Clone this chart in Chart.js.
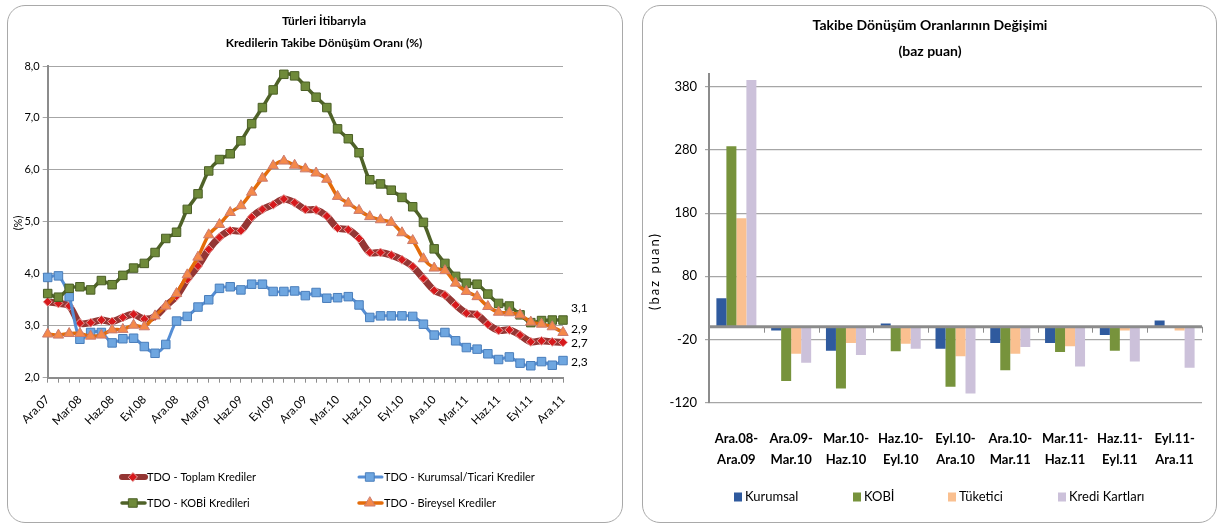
<!DOCTYPE html>
<html>
<head>
<meta charset="utf-8">
<script src="https://cdn.jsdelivr.net/npm/chart.js@4.4.1/dist/chart.umd.min.js"></script>
<style>
  html, body { margin: 0; padding: 0; background: #fff; }
  body { width: 1220px; height: 526px; position: relative; overflow: hidden; }
  canvas { position: absolute; }
  #c1 { left: 7px; top: 5px; }
  #c2 { left: 642px; top: 5px; }
  .frame { position: absolute; top: 5px; height: 518px; border: 1.5px solid #a9a9a9;
           border-radius: 18px; box-sizing: border-box; pointer-events: none; }
  #f1 { left: 7px; width: 616px; }
  #f2 { left: 642px; width: 575px; }
</style>
</head>
<body>
<canvas id="c1" width="616" height="517"></canvas>
<canvas id="c2" width="574" height="517"></canvas>
<div class="frame" id="f1"></div>
<div class="frame" id="f2"></div>
<script>
// ---------- Left chart: NPL conversion ratio by loan type (%) ----------
const months = [
  'Ara.07','Oca.08','Şub.08','Mar.08','Nis.08','May.08','Haz.08','Tem.08','Ağu.08','Eyl.08','Eki.08','Kas.08',
  'Ara.08','Oca.09','Şub.09','Mar.09','Nis.09','May.09','Haz.09','Tem.09','Ağu.09','Eyl.09','Eki.09','Kas.09',
  'Ara.09','Oca.10','Şub.10','Mar.10','Nis.10','May.10','Haz.10','Tem.10','Ağu.10','Eyl.10','Eki.10','Kas.10',
  'Ara.10','Oca.11','Şub.11','Mar.11','Nis.11','May.11','Haz.11','Tem.11','Ağu.11','Eyl.11','Eki.11','Kas.11',
  'Ara.11'
];
const shownMonths = ['Ara.07','Mar.08','Haz.08','Eyl.08','Ara.08','Mar.09','Haz.09','Eyl.09','Ara.09',
  'Mar.10','Haz.10','Eyl.10','Ara.10','Mar.11','Haz.11','Eyl.11','Ara.11'];

const toplam = [3.46,3.43,3.38,3.05,3.06,3.11,3.08,3.16,3.22,3.13,3.18,3.38,
  3.57,3.89,4.15,4.47,4.70,4.83,4.83,5.09,5.24,5.33,5.44,5.37,
  5.24,5.23,5.11,4.88,4.85,4.68,4.41,4.41,4.36,4.27,4.14,3.91,
  3.68,3.59,3.40,3.24,3.21,3.03,2.91,2.92,2.82,2.69,2.71,2.69,2.68];
const kurumsalTicari = [3.93,3.96,3.56,2.74,2.87,2.87,2.67,2.75,2.76,2.60,2.47,2.64,
  3.09,3.18,3.36,3.50,3.72,3.75,3.69,3.80,3.80,3.66,3.66,3.67,
  3.58,3.64,3.53,3.54,3.56,3.40,3.16,3.19,3.19,3.19,3.18,3.03,
  2.82,2.87,2.71,2.58,2.55,2.46,2.35,2.40,2.28,2.23,2.31,2.24,2.33];
const kobiOran = [3.62,3.55,3.72,3.75,3.69,3.87,3.79,3.97,4.11,4.20,4.41,4.68,
  4.80,5.24,5.54,5.98,6.20,6.31,6.56,6.89,7.20,7.54,7.84,7.81,
  7.61,7.40,7.20,6.79,6.60,6.33,5.81,5.73,5.61,5.47,5.29,4.99,
  4.48,4.20,3.95,3.82,3.80,3.61,3.43,3.38,3.21,3.06,3.10,3.11,3.11];
const bireysel = [2.84,2.82,2.85,2.85,2.80,2.82,2.92,2.93,3.01,2.98,3.19,3.38,
  3.62,3.98,4.32,4.75,4.95,5.18,5.31,5.57,5.84,6.08,6.17,6.09,
  6.02,5.94,5.82,5.49,5.36,5.22,5.10,5.04,4.99,4.79,4.64,4.29,
  4.11,4.06,3.82,3.66,3.56,3.37,3.26,3.25,3.21,3.07,3.03,2.98,2.87];

const FONT = 'Lato, "Open Sans", sans-serif';
Chart.defaults.font.family = FONT;
Chart.defaults.color = '#000';
Chart.defaults.animation = false;

const fmtComma = v => Number(v).toFixed(1).replace('.', ',');

// Titles, axis caption, end-of-line value labels and the two-column legend
const leftDecor = {
  id: 'leftDecor',
  afterDraw(chart) {
    const ctx = chart.ctx;
    ctx.save();
    ctx.fillStyle = '#000';
    ctx.textAlign = 'center';
    ctx.textBaseline = 'middle';
    ctx.font = 'bold 12px ' + FONT;
    ctx.fillText('Türleri İtibarıyla', 317, 16);
    ctx.fillText('Kredilerin Takibe Dönüşüm Oranı (%)', 317, 38);

    ctx.save();
    ctx.translate(11, 218);
    ctx.rotate(-Math.PI / 2);
    ctx.font = '11px ' + FONT;
    ctx.fillText('(%)', 0, 0);
    ctx.restore();

    // value labels next to the last point of each series
    const nudges = [1, 2, -12, -3];
    ctx.textAlign = 'left';
    ctx.font = '12px ' + FONT;
    chart.data.datasets.forEach((ds, i) => {
      const meta = chart.getDatasetMeta(i);
      const pt = meta.data[meta.data.length - 1];
      ctx.fillText(fmtComma(ds.data[ds.data.length - 1]), pt.x + 8, pt.y + nudges[i]);
    });

    const slots = [[113, 472], [350, 472], [113, 498], [350, 498]];
    chart.data.datasets.forEach((ds, i) => {
      const [x, y] = slots[i];
      ctx.save();
      ctx.strokeStyle = ds.borderColor;
      ctx.lineWidth = Math.min(ds.borderWidth, 6);
      ctx.lineCap = 'round';
      ctx.beginPath(); ctx.moveTo(x + 2, y); ctx.lineTo(x + 25, y); ctx.stroke();
      ctx.fillStyle = ds.pointBackgroundColor;
      ctx.strokeStyle = ds.pointBorderColor;
      ctx.lineWidth = ds.pointBorderWidth;
      Chart.helpers.drawPoint(ctx, { pointStyle: ds.pointStyle, radius: ds.pointRadius, borderWidth: ds.pointBorderWidth, rotation: 0 }, x + 13, y);
      ctx.restore();
      ctx.fillStyle = '#000';
      ctx.font = '11px ' + FONT;
      ctx.fillText(ds.label, x + 27, y);
    });
    ctx.restore();
  }
};

new Chart(document.getElementById('c1'), {
  type: 'line',
  data: {
    labels: months,
    datasets: [
      { label: 'TDO - Toplam Krediler', data: toplam, order: 4,
        borderColor: '#943634', borderWidth: 7, tension: 0.3,
        pointStyle: 'rectRot', pointRadius: 4.5, pointBackgroundColor: '#d7191c',
        pointBorderColor: '#e8a6a3', pointBorderWidth: 1 },
      { label: 'TDO - Kurumsal/Ticari Krediler', data: kurumsalTicari, order: 3,
        borderColor: '#558ed5', borderWidth: 3, tension: 0.3,
        pointStyle: 'rect', pointRadius: 6, pointBackgroundColor: '#6ea6e0',
        pointBorderColor: '#4a7ebb', pointBorderWidth: 1 },
      { label: 'TDO - KOBİ Kredileri', data: kobiOran, order: 2,
        borderColor: '#4f6228', borderWidth: 3.5, tension: 0.3,
        pointStyle: 'rect', pointRadius: 6, pointBackgroundColor: '#6f8a3a',
        pointBorderColor: '#4a5e25', pointBorderWidth: 1 },
      { label: 'TDO - Bireysel Krediler', data: bireysel, order: 1,
        borderColor: '#e46c0a', borderWidth: 3.5, tension: 0.3,
        pointStyle: 'triangle', pointRadius: 6, pointBackgroundColor: '#f5894a',
        pointBorderColor: '#c97a70', pointBorderWidth: 1 }
    ]
  },
  options: {
    responsive: false,
    layout: { padding: { top: 61, left: 0, right: 60, bottom: 84.3 } },
    plugins: { legend: { display: false }, tooltip: { enabled: false } },
    scales: {
      x: {
        offset: false,
        grid: { display: true, drawOnChartArea: false, drawTicks: true, tickLength: 5, color: '#8c8c8c', lineWidth: 1 },
        border: { display: true, color: '#8c8c8c', width: 2 },
        ticks: { autoSkip: false, minRotation: 45, maxRotation: 45, padding: 10,
                 font: { size: 11.5 }, color: '#000',
                 callback: (v, i) => shownMonths.includes(months[i]) ? months[i] : '' },
        afterFit: s => { s.height = 60; }
      },
      y: {
        min: 2, max: 8,
        ticks: { stepSize: 1, padding: 3, font: { size: 11 }, color: '#000', callback: v => fmtComma(v) },
        grid: { color: '#a6a6a6', lineWidth: 1, drawTicks: true, tickLength: 5 },
        border: { display: true, color: '#8c8c8c', width: 2 },
        afterFit: s => { s.width = 40.7; }
      }
    }
  },
  plugins: [leftDecor]
});

// ---------- Right chart: change in NPL conversion ratios (basis points) ----------
const periods = [['Ara.08-','Ara.09'],['Ara.09-','Mar.10'],['Mar.10-','Haz.10'],['Haz.10-','Eyl.10'],
  ['Eyl.10-','Ara.10'],['Ara.10-','Mar.11'],['Mar.11-','Haz.11'],['Haz.11-','Eyl.11'],['Eyl.11-','Ara.11']];
const kurumsal = [45, -6, -38, 5, -35, -26, -26, -13, 10];
const kobi = [286, -86, -98, -39, -95, -69, -40, -38, 0];
const tuketici = [172, -43, -26, -27, -47, -43, -31, -6, -6];
const krediKartlari = [391, -57, -45, -35, -106, -32, -63, -55, -65];
const bpTicks = [-120, -20, 80, 180, 280, 380];

const rightDecor = {
  id: 'rightDecor',
  afterDatasetsDraw(chart) {
    const ctx = chart.ctx, a = chart.chartArea;
    const y0 = chart.scales.y.getPixelForValue(0);
    ctx.save();
    ctx.strokeStyle = '#8c8c8c';
    ctx.lineWidth = 3;
    ctx.beginPath(); ctx.moveTo(a.left, y0); ctx.lineTo(a.right, y0); ctx.stroke();
    ctx.lineWidth = 1;
    const n = periods.length, w = (a.right - a.left) / n;
    for (let k = 1; k <= n; k++) {
      const x = Math.round(a.left + k * w) + 0.5;
      ctx.beginPath(); ctx.moveTo(x, y0); ctx.lineTo(x, y0 + 6); ctx.stroke();
    }
    ctx.restore();
  },
  afterDraw(chart) {
    const ctx = chart.ctx;
    ctx.save();
    ctx.fillStyle = '#000';
    ctx.textAlign = 'center';
    ctx.textBaseline = 'middle';
    ctx.font = 'bold 14px ' + FONT;
    ctx.fillText('Takibe Dönüşüm Oranlarının Değişimi', 288, 20);
    ctx.fillText('(baz puan)', 288, 46);

    ctx.save();
    ctx.translate(13, 266);
    ctx.rotate(-Math.PI / 2);
    ctx.font = '13px ' + FONT;
    ctx.letterSpacing = '2px';
    ctx.fillText('(baz puan)', 0, 0);
    ctx.restore();

    const slots = [92, 211, 306, 416];
    ctx.textAlign = 'left';
    ctx.font = '13px ' + FONT;
    chart.data.datasets.forEach((ds, i) => {
      const x = slots[i], y = 492;
      ctx.fillStyle = ds.backgroundColor;
      ctx.fillRect(x, y - 4.5, 8, 9);
      ctx.fillStyle = '#000';
      ctx.fillText(ds.label, x + 11, y);
    });
    ctx.restore();
  }
};

new Chart(document.getElementById('c2'), {
  type: 'bar',
  data: {
    labels: periods,
    datasets: [
      { label: 'Kurumsal', data: kurumsal, backgroundColor: '#2f5a9e' },
      { label: 'KOBİ', data: kobi, backgroundColor: '#77933c' },
      { label: 'Tüketici', data: tuketici, backgroundColor: '#fac090' },
      { label: 'Kredi Kartları', data: krediKartlari, backgroundColor: '#ccc1da' }
    ]
  },
  options: {
    responsive: false,
    layout: { padding: { top: 69.4, left: 0, right: 14, bottom: 49.6 } },
    plugins: { legend: { display: false }, tooltip: { enabled: false } },
    datasets: { bar: { barPercentage: 1, categoryPercentage: 0.73, borderWidth: 0 } },
    scales: {
      x: {
        grid: { display: false },
        border: { display: false },
        ticks: { padding: 18, font: { size: 13, weight: 'bold', lineHeight: 1.6 }, color: '#000', maxRotation: 0, autoSkip: false },
        afterFit: s => { s.height = 70; }
      },
      y: {
        min: -120, max: 400,
        afterBuildTicks: s => { s.ticks = bpTicks.map(v => ({ value: v })); },
        ticks: { padding: 8, font: { size: 13 }, color: '#000' },
        grid: { color: '#a6a6a6', lineWidth: 1.2, drawTicks: true, tickLength: 4 },
        border: { display: true, color: '#8c8c8c', width: 2 },
        afterFit: s => { s.width = 67; }
      }
    }
  },
  plugins: [rightDecor]
});
</script>
</body>
</html>
